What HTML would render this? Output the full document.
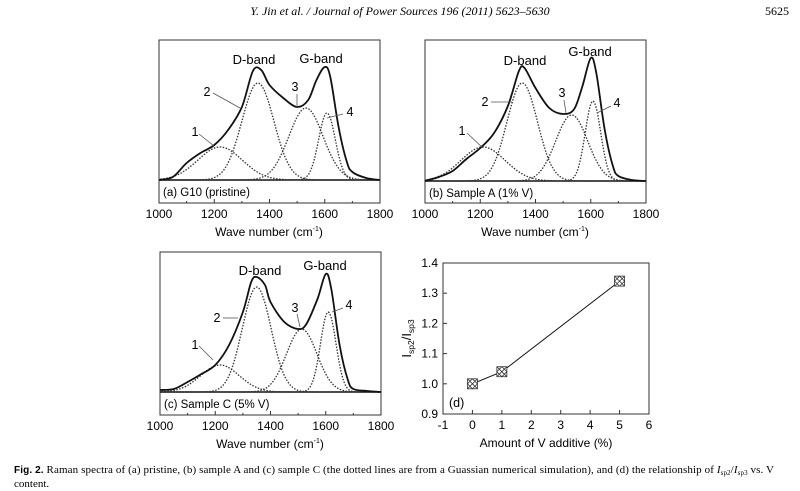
<!DOCTYPE html>
<html><head><meta charset="utf-8"><style>
body{margin:0;background:#fff}
svg{display:block;font-family:"Liberation Sans",sans-serif}
</style></head><body>
<svg id="fig" width="800" height="491" viewBox="0 0 800 491">
<text x="400" y="15" text-anchor="middle" font-family="Liberation Serif" font-style="italic" font-size="12">Y. Jin et al. / Journal of Power Sources 196 (2011) 5623–5630</text>
<text x="789" y="15" text-anchor="end" font-family="Liberation Serif" font-size="12">5625</text>
<g id="panels"></g>
<text x="14" y="473" font-family="Liberation Serif" font-size="11" textLength="760"><tspan font-weight="bold" font-family="Liberation Sans" font-size="10">Fig. 2.</tspan> Raman spectra of (a) pristine, (b) sample A and (c) sample C (the dotted lines are from a Guassian numerical simulation), and (d) the relationship of <tspan font-style="italic">I</tspan><tspan font-size="7" dy="2">sp2</tspan><tspan dy="-2">/</tspan><tspan font-style="italic">I</tspan><tspan font-size="7" dy="2">sp3</tspan><tspan dy="-2"> vs. V</tspan></text>
<text x="14" y="487" font-family="Liberation Serif" font-size="11">content.</text>
</svg>
<script>
// Gaussian component data (center cm-1, peak height, sigma)
const centersA=[1221,1358,1532,1608];
const heightsA=[33,97,72,67];
const sigmasA=[80,58,62,30];
const centersB=[1210,1352,1531,1608];
const heightsB=[34,98,66,80];
const sigmasB=[80,55,58,28];
const centersC=[1217,1350,1513,1609];
const heightsC=[27,105,63,80];
const sigmasC=[70,52,55,28];
// measured total spectra (wavenumber, intensity)
const waveA=[1000,1050,1100,1150,1200,1250,1300,1340,1370,1400,1450,1500,1540,1570,1600,1620,1650,1680,1700,1750,1800];
const totalA=[0,3,17,27,35,50,73,109,110,95,82,73,80,100,113,103,53,18,8,2,0];
const waveB=[1000,1050,1100,1150,1200,1250,1300,1340,1360,1400,1450,1500,1540,1570,1600,1620,1650,1680,1700,1750,1800];
const totalB=[0,4,10,22,33,48,75,110,113,93,73,67,72,95,123,108,52,15,5,1,0];
const waveC=[1000,1050,1100,1150,1200,1250,1300,1330,1350,1380,1400,1450,1500,1530,1570,1600,1620,1650,1680,1700,1750,1800];
const totalC=[2,3,10,18,27,47,80,110,115,107,90,70,63,68,93,118,103,47,12,3,1,0];
const xTicks=[1000,1200,1400,1600,1800];
// panel d data
const dX=[0,1,5];
const dY=[1.00,1.04,1.34];
const dXTicks=[-1,0,1,2,3,4,5,6];
const dYTicks=[0.9,1.0,1.1,1.2,1.3,1.4];

const NS="http://www.w3.org/2000/svg";
const root=document.getElementById('panels');
function mk(tag,attrs,parent,text){const e=document.createElementNS(NS,tag);for(const k in attrs)e.setAttribute(k,attrs[k]);if(text!==undefined)e.textContent=text;(parent||root).appendChild(e);return e;}
function smooth(P){let d='M'+P[0][0].toFixed(1)+','+P[0][1].toFixed(1);
  for(let i=0;i<P.length-1;i++){const p0=P[Math.max(0,i-1)],p1=P[i],p2=P[i+1],p3=P[Math.min(P.length-1,i+2)];
    const c1=[p1[0]+(p2[0]-p0[0])/6,p1[1]+(p2[1]-p0[1])/6],c2=[p2[0]-(p3[0]-p1[0])/6,p2[1]-(p3[1]-p1[1])/6];
    d+='C'+c1.map(v=>v.toFixed(1)).join(',')+' '+c2.map(v=>v.toFixed(1)).join(',')+' '+p2.map(v=>v.toFixed(1)).join(',');}
  return d;}

function spectrum(id,x0,top,base,cs,hs,ss,wv,tot,label,bands,nums){
  const g=mk('g',{});
  
  
  const W=221,x1=x0+W,bottom=top+163;
  const sx=v=>x0+(v-1000)/800*W;
  const sy=v=>base-v;
  const box=mk('rect',{x:x0,y:top,width:W,height:163,fill:'none',stroke:'#333','stroke-width':1},g);
  
  const bl=mk('line',{x1:x0,x2:x1,y1:base,y2:base,stroke:'#111','stroke-width':1.6},g);
  
  for(let v=1000;v<=1800;v+=100){const t=mk('line',{x1:sx(v),x2:sx(v),y1:bottom,y2:bottom-(v%200?2:4),stroke:'#333'},g);
    }
  xTicks.forEach(v=>{const t=mk('text',{x:sx(v),y:bottom+15,'text-anchor':'middle','font-size':12},g,String(v));
    });
  const tt=mk('text',{x:x0+110,y:bottom+33,'text-anchor':'middle','font-size':12},g);
  
  tt.innerHTML='Wave number (cm<tspan font-size="7" dy="-5">-1</tspan><tspan dy="5">)</tspan>';
  const comp=(i,v)=>hs[i]*Math.exp(-0.5*Math.pow((v-cs[i])/ss[i],2));
  for(let i=0;i<cs.length;i++){
    let d='';for(let v=1005;v<=1795;v+=4){d+=(d?'L':'M')+sx(v).toFixed(1)+','+sy(comp(i,v)).toFixed(1);}
    const p=mk('path',{d:d,fill:'none',stroke:'#333','stroke-width':1.3,'stroke-dasharray':'1.5,1.5'},g);
    
  }
  const tp=mk('path',{d:smooth(wv.map((w,i)=>[sx(w),sy(tot[i])])),fill:'none',stroke:'#111','stroke-width':1.8},g);
  
  const pl=mk('text',{x:x0+4,y:base+16,'font-size':11.5},g,label);
  
  bands.forEach(b=>{const t=mk('text',{x:b[0],y:b[1],'text-anchor':'middle','font-size':13},g,b[2]);
    });
  nums.forEach(n=>{const t=mk('text',{x:n[0],y:n[1],'text-anchor':'middle','font-size':12.5},g,n[2]);
    
    const a=mk('line',{x1:n[3],y1:n[4],x2:n[5],y2:n[6],stroke:'#555','stroke-width':0.8},g);
    });
}
spectrum('a',159,40,180,centersA,heightsA,sigmasA,waveA,totalA,'(a) G10 (pristine)',
  [[254,64,'D-band'],[321,63,'G-band']],
  [[195,136,'1',199,134,214,146],[207,96,'2',213,93,240,108],[295,91,'3',297,94,297,107],[350,116,'4',343,114,327,118]]);
spectrum('b',425,40,181,centersB,heightsB,sigmasB,waveB,totalB,'(b) Sample A (1% V)',
  [[525,65,'D-band'],[590,56,'G-band']],
  [[462,135,'1',467,133,483,148],[485,106,'2',491,102,512,102],[562,97,'3',564,100,566,113],[617,107,'4',611,106,597,113]]);
spectrum('c',160,252,392,centersC,heightsC,sigmasC,waveC,totalC,'(c) Sample C (5% V)',
  [[260,275,'D-band'],[325,270,'G-band']],
  [[195,349,'1',199,346,213,360],[217,322,'2',223,318,238,318],[295,312,'3',297,314,300,327],[349,309,'4',343,308,332,312]]);

// panel d
(function(){
  const g=mk('g',{});
  
  const x0=443,x1=649,y0=263,y1=414;
  const sx=v=>x0+(v+1)/7*(x1-x0), sy=v=>y1-(v-0.9)/0.5*(y1-y0);
  const box=mk('rect',{x:x0,y:y0,width:x1-x0,height:y1-y0,fill:'none',stroke:'#333'},g);
  
  dXTicks.forEach(v=>{const t=mk('line',{x1:sx(v),x2:sx(v),y1:y1,y2:y1-4,stroke:'#333'},g);
    
    const l=mk('text',{x:sx(v),y:y1+15,'text-anchor':'middle','font-size':12},g,String(v));
    });
  dYTicks.forEach(v=>{const t=mk('line',{x1:x0,x2:x0+4,y1:sy(v),y2:sy(v),stroke:'#333'},g);
    
    const l=mk('text',{x:x0-5,y:sy(v)+4,'text-anchor':'end','font-size':12},g,v.toFixed(1));
    });
  const xt=mk('text',{x:(x0+x1)/2,y:y1+33,'text-anchor':'middle','font-size':12},g,'Amount of V additive (%)');
  
  const yt=mk('text',{x:0,y:0,'text-anchor':'middle','font-size':13,transform:'translate(411,'+((y0+y1)/2)+') rotate(-90)'},g);
  
  yt.innerHTML='I<tspan font-size="8.5" dy="3">sp2</tspan><tspan dy="-3">/I</tspan><tspan font-size="8.5" dy="3">sp3</tspan>';
  const pts=dX.map((x,i)=>sx(x).toFixed(1)+','+sy(dY[i]).toFixed(1)).join(' ');
  const ln=mk('polyline',{points:pts,fill:'none',stroke:'#111','stroke-width':1},g);
  
  dX.forEach((x,i)=>{const cx=sx(x),cy=sy(dY[i]);
    const m=mk('g',{},g);
    mk('rect',{x:cx-5,y:cy-5,width:10,height:10,fill:'#fff',stroke:'#333','stroke-width':0.8},m);
    mk('path',{d:`M${cx-5},${cy-5}L${cx+5},${cy+5}M${cx+5},${cy-5}L${cx-5},${cy+5}M${cx-5},${cy}L${cx},${cy-5}L${cx+5},${cy}L${cx},${cy+5}Z`,fill:'none',stroke:'#333','stroke-width':0.8},m);});
  const pl=mk('text',{x:x0+6,y:y1-7,'font-size':12.5},g,'(d)');
  
})();
</script>
</body></html>
